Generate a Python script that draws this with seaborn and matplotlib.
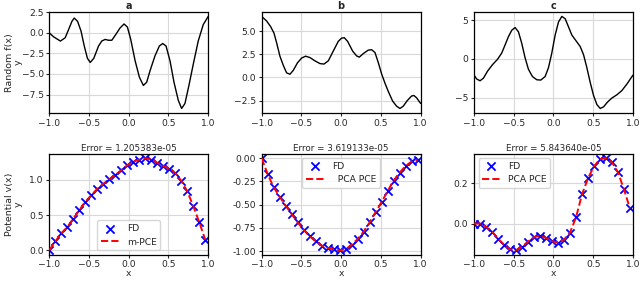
import numpy as np
import pandas as pd
import seaborn as sns
import matplotlib.pyplot as plt
from matplotlib.ticker import MultipleLocator

# top row: random f(x) samples
xa_top = [-1.0, -0.946, -0.86, -0.8, -0.757, -0.715, -0.686, -0.644, -0.6, -0.56, -0.52, -0.485,
          -0.44, -0.38, -0.34, -0.297, -0.255, -0.213, -0.17, -0.109, -0.059, -0.017, 0.025, 0.08,
          0.134, 0.184, 0.226, 0.268, 0.33, 0.385, 0.427, 0.469, 0.519, 0.569, 0.623, 0.665, 0.707,
          0.757, 0.812, 0.874, 0.937, 1.0]
ya_top = [0.0, -0.48, -1.0, -0.6, 0.4, 1.4, 1.8, 1.4, 0.2, -1.6, -3.1, -3.6,
          -3.1, -1.6, -1.0, -0.8, -0.9, -0.9, -0.3, 0.6, 1.08, 0.7, -0.8, -3.4,
          -5.4, -6.4, -6.0, -4.6, -2.8, -1.6, -1.3, -1.6, -3.4, -6.0, -8.2, -9.2, -8.6,
          -6.4, -3.8, -1.0, 1.0, 2.0]

xb_top = [-1.0, -0.937, -0.887, -0.845, -0.81, -0.77, -0.727, -0.686, -0.644, -0.602, -0.55, -0.497,
          -0.447, -0.392, -0.33, -0.266, -0.216, -0.161, -0.099, -0.036, 0.006, 0.04, 0.082, 0.145,
          0.195, 0.229, 0.279, 0.342, 0.384, 0.426, 0.468, 0.509, 0.551, 0.593, 0.648, 0.698, 0.74,
          0.782, 0.832, 0.887, 0.916, 0.95, 1.0]
yb_top = [6.6, 6.1, 5.5, 4.8, 3.7, 2.3, 1.3, 0.5, 0.35, 0.77, 1.57, 2.1,
          2.3, 2.15, 1.8, 1.5, 1.45, 1.8, 2.85, 3.9, 4.25, 4.3, 3.9, 2.85,
          2.33, 2.2, 2.58, 2.96, 3.0, 2.7, 1.6, 0.4, -0.6, -1.5, -2.55, -3.1, -3.35,
          -3.1, -2.5, -2.0, -1.95, -2.2, -2.8]

xc_top = [-1.0, -0.966, -0.924, -0.882, -0.828, -0.765, -0.706, -0.651, -0.609, -0.567, -0.525, -0.483,
          -0.441, -0.399, -0.357, -0.315, -0.265, -0.21, -0.16, -0.105, -0.063, -0.021, 0.021, 0.063,
          0.105, 0.147, 0.189, 0.231, 0.282, 0.336, 0.378, 0.42, 0.462, 0.504, 0.546, 0.588, 0.63,
          0.681, 0.735, 0.798, 0.861, 0.924, 1.0]
yc_top = [-2.1, -2.6, -2.83, -2.5, -1.56, -0.72, -0.08, 0.76, 1.8, 2.87, 3.7, 4.05,
          3.5, 2.0, 0.13, -1.35, -2.28, -2.7, -2.74, -2.28, -1.14, 0.76, 3.08, 4.77,
          5.49, 5.19, 4.14, 3.08, 2.36, 1.6, 0.55, -1.14, -3.04, -4.73, -5.9, -6.41, -6.2,
          -5.57, -5.06, -4.64, -4.09, -3.25, -2.1]

# bottom row: potential v(x), FD points and PCE curve
x_fd = [-1.0, -0.925, -0.85, -0.774, -0.698, -0.623, -0.547, -0.472, -0.396, -0.321, -0.245,
        -0.17, -0.094, -0.019, 0.057, 0.132, 0.208, 0.283, 0.359, 0.434, 0.51, 0.585, 0.66,
        0.736, 0.811, 0.887, 0.962]
va = [0.0, 0.125, 0.24, 0.33, 0.45, 0.57, 0.69, 0.78, 0.875, 0.945, 1.01,
      1.07, 1.14, 1.21, 1.26, 1.29, 1.31, 1.29, 1.245, 1.2, 1.16, 1.1, 0.99,
      0.84, 0.63, 0.4, 0.15]
vb = [0.0, -0.17, -0.31, -0.415, -0.51, -0.6, -0.69, -0.77, -0.84, -0.89, -0.94,
      -0.965, -0.98, -0.99, -0.98, -0.93, -0.87, -0.79, -0.69, -0.58, -0.47, -0.355, -0.24,
      -0.155, -0.085, -0.035, -0.02]
vc = [0.0, 0.0, -0.015, -0.04, -0.075, -0.105, -0.128, -0.133, -0.115, -0.09, -0.068,
      -0.06, -0.072, -0.088, -0.095, -0.08, -0.045, 0.03, 0.145, 0.225, 0.285, 0.32, 0.325,
      0.305, 0.255, 0.17, 0.075]

titles = ["a", "b", "c"]
errors = ["Error = 1.205383e-05", "Error = 3.619133e-05", "Error = 5.843640e-05"]
pce_labels = ["m-PCE", "  PCA PCE", "PCA PCE"]
legend_locs = ["lower center", "upper center", "upper left"]

sns.set_style("whitegrid", {"axes.edgecolor": "black", "grid.color": "#d9d9d9",
                            "xtick.bottom": True, "ytick.left": True})
plt.rcParams["font.family"] = ["DejaVu Sans"]
plt.rcParams["font.size"] = 6.6
plt.rcParams["xtick.major.size"] = 2.5
plt.rcParams["ytick.major.size"] = 2.5

fig, axes = plt.subplots(2, 3, figsize=(6.4, 2.81), dpi=100,
                         gridspec_kw=dict(left=0.077, right=0.989, top=0.958, bottom=0.093,
                                          wspace=0.336, hspace=0.40))

tops = [(xa_top, ya_top), (xb_top, yb_top), (xc_top, yc_top)]
bots = [va, vb, vc]
top_steps = [2.5, 2.5, 5]
bot_steps = [0.5, 0.25, 0.2]

for i in range(3):
    ax = axes[0, i]
    df = pd.DataFrame({"x": tops[i][0], "y": tops[i][1]})
    sns.lineplot(data=df, x="x", y="y", color="black", lw=1, ax=ax, sort=False)
    ax.set_xlim(-1, 1)
    ax.set_title(titles[i], fontweight="bold", fontsize=7, pad=2)
    ax.yaxis.set_major_locator(MultipleLocator(top_steps[i]))
    ax.set_xlabel("")
    ax.set_ylabel("")

    ax = axes[1, i]
    df = pd.DataFrame({"x": x_fd, "v": bots[i]})
    sns.scatterplot(data=df, x="x", y="v", marker="x", color="blue", s=35,
                    linewidth=1.3, label="FD", ax=ax, zorder=2)
    sns.lineplot(data=df, x="x", y="v", color="red", lw=1.4, linestyle="--",
                 label=pce_labels[i], ax=ax, zorder=3)
    ax.set_xlim(-1, 1)
    ax.set_title(errors[i], fontsize=6.3, pad=2)
    ax.yaxis.set_major_locator(MultipleLocator(bot_steps[i]))
    ax.set_xlabel("x", labelpad=0)
    ax.set_ylabel("")
    ax.legend(loc=legend_locs[i], fontsize=6.6, framealpha=0.8)

for ax in axes.flat:
    ax.xaxis.set_major_locator(MultipleLocator(0.5))
    ax.tick_params(pad=1.5)
    for s in ax.spines.values():
        s.set_linewidth(0.9)

axes[1, 1].yaxis.set_major_formatter(plt.FormatStrFormatter("%.2f"))
axes[0, 0].set_ylabel("Random f(x)\ny", fontsize=6.8, linespacing=0.95)
axes[1, 0].set_ylabel("Potential v(x)\ny", fontsize=6.8, linespacing=0.95)
axes[0, 0].yaxis.set_label_coords(-0.17, 0.5)
axes[1, 0].yaxis.set_label_coords(-0.17, 0.5)

plt.savefig("out.png", dpi=100)
